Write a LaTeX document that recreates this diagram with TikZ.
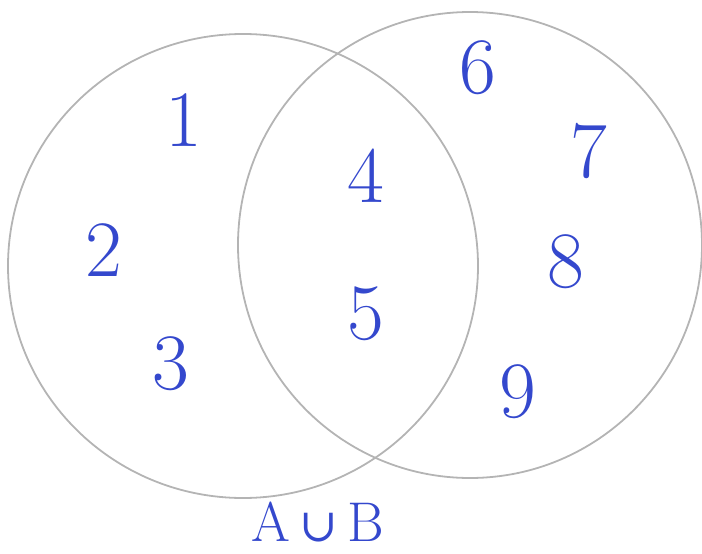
\documentclass[tikz,border=0pt]{standalone}
\usepackage{fontspec}
\newfontfamily\symf{DejaVu Serif}
\definecolor{pen}{RGB}{52,72,205}
\definecolor{pencil}{RGB}{180,180,180}
\begin{document}
\begin{tikzpicture}[x=1pt,y=-1pt,
  setcircle/.style={draw=pencil,line width=1.8pt},
  elem/.style={text=pen,font=\fontsize{80}{80}\selectfont,inner sep=0pt},
  setlabel/.style={text=pen,font=\fontsize{56}{56}\selectfont,inner sep=0pt}]
\useasboundingbox (0,0) rectangle (702,554);
\draw[setcircle] (243,266) ellipse [x radius=235, y radius=232];
\draw[setcircle] (470,245) ellipse [x radius=232, y radius=233];
\node[elem] (n1) at (184,120) {1};
\node[elem] (n2) at (104,250) {2};
\node[elem] (n3) at (171,364) {3};
\node[elem] (n4) at (366,176) {4};
\node[elem] (n5) at (366,314) {5};
\node[elem] (n6) at (478,68) {6};
\node[elem] (n7) at (589,151) {7};
\node[elem] (n8) at (566,262) {8};
\node[elem] (n9) at (518,392) {9};
\node[setlabel] (lab) at (318,522) {A\,{\symf\fontsize{46}{46}\selectfont ∪}\,B};
\end{tikzpicture}
\end{document}
